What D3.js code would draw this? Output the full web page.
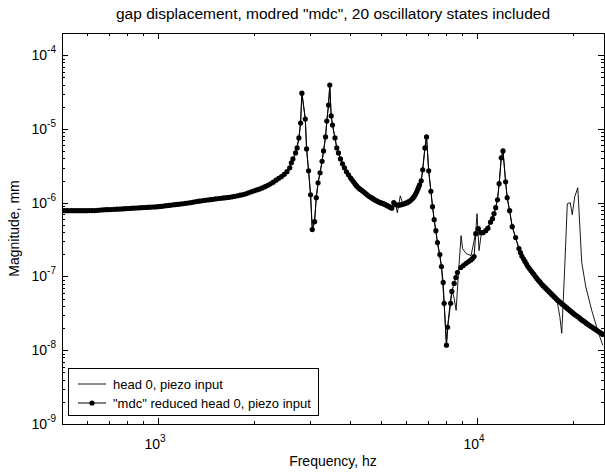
<!DOCTYPE html>
<html><head><meta charset="utf-8">
<script src="https://cdn.jsdelivr.net/npm/d3@7"></script>
<style>
body{margin:0;background:#fff}
text{font-family:"Liberation Sans",Arial,sans-serif;fill:#000}
</style>
</head><body>
<svg id="c" width="605" height="473"></svg>
<script>
// ---- data: [frequency Hz, magnitude mm] ----
const mdcSeries = [
 [500,0.780e-6],[510,0.780e-6],[520,0.780e-6],[531,0.780e-6],[541,0.780e-6],[552,0.780e-6],[563,0.780e-6],[574,0.780e-6],
 [586,0.781e-6],[598,0.781e-6],[610,0.782e-6],[622,0.782e-6],[634,0.783e-6],[647,0.789e-6],[660,0.797e-6],[673,0.802e-6],
 [687,0.804e-6],[700,0.807e-6],[714,0.809e-6],[729,0.814e-6],[743,0.817e-6],[758,0.819e-6],[773,0.824e-6],[789,0.830e-6],
 [805,0.835e-6],[821,0.840e-6],[837,0.843e-6],[854,0.848e-6],[871,0.853e-6],[888,0.856e-6],[906,0.861e-6],[924,0.864e-6],
 [943,0.869e-6],[961,0.875e-6],[981,0.877e-6],[1000,0.883e-6],[1020,0.891e-6],[1041,0.900e-6],[1061,0.911e-6],[1083,0.919e-6],
 [1104,0.931e-6],[1126,0.940e-6],[1149,0.948e-6],[1172,0.960e-6],[1195,0.969e-6],[1219,0.981e-6],[1243,0.991e-6],[1268,1.006e-6],
 [1294,1.022e-6],[1319,1.035e-6],[1346,1.051e-6],[1373,1.064e-6],[1400,1.077e-6],[1428,1.088e-6],[1457,1.101e-6],[1486,1.111e-6],
 [1516,1.126e-6],[1546,1.140e-6],[1577,1.150e-6],[1608,1.161e-6],[1641,1.176e-6],[1673,1.183e-6],[1707,1.201e-6],[1741,1.220e-6],
 [1776,1.243e-6],[1811,1.267e-6],[1848,1.291e-6],[1885,1.323e-6],[1922,1.365e-6],[1961,1.408e-6],[2000,1.448e-6],[2040,1.489e-6],
 [2081,1.531e-6],[2122,1.585e-6],[2165,1.651e-6],[2208,1.724e-6],[2252,1.806e-6],[2297,1.898e-6],[2343,2.020e-6],[2390,2.144e-6],
 [2438,2.26e-6],[2487,2.427e-6],[2536,2.640e-6],[2587,2.972e-6],
 [2618,3.47e-6],[2647,3.93e-6],[2699,4.74e-6],[2729,5.54e-6],[2764,7.55e-6],[2798,12.05e-6],[2825,30.6e-6],[2895,13.6e-6],
 [2922,5.37e-6],[2964,2.71e-6],[3007,1.283e-6],[3044,0.432e-6],[3095,0.554e-6],[3133,1.169e-6],[3174,1.864e-6],[3220,2.544e-6],
 [3267,3.64e-6],[3302,5.04e-6],[3350,7.79e-6],[3381,12.8e-6],[3423,21.1e-6],[3454,39.3e-6],[3489,15.0e-6],[3522,11.3e-6],
 [3587,7.55e-6],[3633,5.54e-6],[3678,4.74e-6],[3732,3.93e-6],[3786,3.37e-6],[3841,2.97e-6],[3897,2.62e-6],[3954,2.39e-6],
 [4011,2.18e-6],[4054,2.046e-6],[4099,1.92e-6],[4142,1.806e-6],[4188,1.70e-6],[4233,1.620e-6],[4279,1.55e-6],[4325,1.498e-6],
 [4372,1.45e-6],[4419,1.395e-6],[4467,1.34e-6],[4516,1.291e-6],[4564,1.24e-6],[4614,1.205e-6],[4664,1.17e-6],[4714,1.133e-6],
 [4765,1.10e-6],[4818,1.071e-6],[4870,1.05e-6],[4923,1.022e-6],[4976,1.00e-6],[5030,0.985e-6],[5084,0.97e-6],[5139,0.948e-6],
 [5195,0.925e-6],[5251,0.905e-6],[5309,0.883e-6],[5355,0.861e-6],[5404,0.843e-6],[5483,1.00e-6],[5563,0.94e-6],[5662,0.925e-6],
 [5724,0.931e-6],[5786,0.94e-6],[5850,0.954e-6],[5914,0.969e-6],[5978,0.985e-6],[6043,1.00e-6],[6108,1.032e-6],[6174,1.064e-6],
 [6242,1.115e-6],[6310,1.17e-6],[6369,1.243e-6],[6423,1.32e-6],[6470,1.408e-6],[6517,1.52e-6],[6560,1.630e-6],[6603,1.75e-6],
 [6683,1.98e-6],[6755,2.79e-6],[6864,5.54e-6],[6944,7.79e-6],[7054,2.71e-6],[7167,1.43e-6],[7250,0.883e-6],[7338,0.589e-6],
 [7428,0.418e-6],[7514,0.288e-6],[7645,0.198e-6],[7734,0.1365e-6],[7831,0.083e-6],[7887,0.0432e-6],[8018,0.0117e-6],[8087,0.0205e-6],
 [8265,0.0432e-6],[8336,0.0627e-6],[8476,0.0804e-6],[8579,0.0969e-6],[8678,0.1133e-6],[8892,0.1324e-6],[9055,0.141e-6],[9219,0.150e-6],
 [9386,0.158e-6],[9557,0.167e-6],[9674,0.175e-6],[9786,0.186e-6],[9906,0.381e-6],[10094,0.445e-6],[10270,0.393e-6],[10440,0.393e-6],
 [10650,0.418e-6],[10820,0.452e-6],[11020,0.545e-6],[11180,0.607e-6],[11300,0.710e-6],[11440,0.856e-6],[11590,1.098e-6],[11730,1.81e-6],
 [11910,4.06e-6],[12060,5.04e-6],[12290,1.92e-6],[12430,1.17e-6],[12650,0.780e-6],[12890,0.474e-6],[13210,0.337e-6],[13530,0.239e-6],
 [13677,0.211e-6],[13820,0.189e-6],[13976,0.1734e-6],[14130,0.160e-6],[14282,0.1471e-6],[14430,0.1365e-6],[14593,0.1282e-6],[14750,0.1205e-6],
 [14910,0.1132e-6],[15070,0.1065e-6],[15236,0.100e-6],[15400,0.094e-6],[15568,0.0888e-6],[15740,0.0843e-6],[15909,0.0796e-6],[16080,0.0756e-6],
 [16254,0.0721e-6],[16430,0.0689e-6],[16609,0.0657e-6],[16790,0.0627e-6],[16972,0.0598e-6],[17150,0.0571e-6],[17343,0.0545e-6],[17530,0.052e-6],
 [17718,0.0497e-6],[17910,0.0474e-6],[18106,0.0455e-6],[18300,0.044e-6],[18502,0.0421e-6],[18700,0.0406e-6],[18906,0.0390e-6],[19110,0.0375e-6],
 [19316,0.0360e-6],[19530,0.0347e-6],[19738,0.0333e-6],[19950,0.0321e-6],[20170,0.0308e-6],[20390,0.0297e-6],[20611,0.0288e-6],[20830,0.0279e-6],
 [21056,0.0268e-6],[21290,0.0258e-6],[21516,0.0250e-6],[21750,0.0243e-6],[21986,0.0233e-6],[22230,0.0225e-6],[22467,0.0218e-6],[22710,0.0211e-6],
 [22954,0.0205e-6],[23210,0.0198e-6],[23456,0.0192e-6],[23710,0.0186e-6],[23969,0.0181e-6],[24230,0.0175e-6],[24494,0.0170e-6],[24770,0.0164e-6]
];

const headSeries = [
 [500,0.780e-6],[659,0.804e-6],[1000,0.883e-6],[1353,1.064e-6],[1804,1.26e-6],[2083,1.546e-6],[2304,1.923e-6],[2475,2.39e-6],
 [2585,2.97e-6],[2647,3.93e-6],[2700,4.74e-6],[2764,7.55e-6],[2798,12.05e-6],[2825,30.6e-6],[2895,13.6e-6],[2922,5.37e-6],
 [2964,2.71e-6],[3007,1.283e-6],[3044,0.432e-6],[3095,0.554e-6],[3133,1.169e-6],[3174,1.864e-6],[3220,2.544e-6],[3267,3.64e-6],
 [3302,5.04e-6],[3350,7.79e-6],[3381,12.8e-6],[3423,21.1e-6],[3454,39.3e-6],[3489,15.0e-6],[3522,11.3e-6],[3587,7.55e-6],
 [3633,5.54e-6],[3732,3.93e-6],[3841,2.97e-6],[4011,2.18e-6],[4279,1.55e-6],[4564,1.24e-6],[4870,1.05e-6],[5195,0.925e-6],
 [5404,0.856e-6],[5464,0.94e-6],[5543,1.0e-6],[5625,0.73e-6],[5745,1.24e-6],[5850,0.969e-6],[6043,1.0e-6],[6310,1.17e-6],
 [6517,1.52e-6],[6683,1.98e-6],[6755,2.79e-6],[6864,5.54e-6],[6944,7.79e-6],[7054,2.71e-6],[7167,1.43e-6],[7338,0.589e-6],
 [7514,0.288e-6],[7734,0.1365e-6],[7887,0.0432e-6],[8018,0.0117e-6],[8087,0.0205e-6],[8175,0.0326e-6],[8265,0.0504e-6],[8354,0.0647e-6],
 [8476,0.0504e-6],[8598,0.0347e-6],[8754,0.1205e-6],[8913,0.358e-6],[9010,0.239e-6],[9237,0.2045e-6],[9578,0.192e-6],[9892,0.381e-6],
 [10000,0.710e-6],[10145,0.2245e-6],[10292,0.358e-6],[10650,0.418e-6],[11020,0.545e-6],[11300,0.710e-6],[11590,1.098e-6],[11730,1.81e-6],
 [11910,4.06e-6],[12060,5.04e-6],[12290,1.92e-6],[12430,1.17e-6],[12650,0.780e-6],[12890,0.474e-6],[13530,0.239e-6],[14750,0.1205e-6],
 [16080,0.0756e-6],[17150,0.0571e-6],[17530,0.052e-6],[17850,0.0445e-6],[18170,0.0288e-6],[18430,0.0170e-6],[18840,0.141e-6],[19180,0.969e-6],
 [19600,1.0e-6],[19880,0.688e-6],[20240,1.205e-6],[20690,1.595e-6],[21290,0.1546e-6],[21910,0.0733e-6],[22880,0.0347e-6],[23880,0.0186e-6],
 [24770,0.0117e-6]
];

const xMajorTicks = [1000, 10000];
const xTickExp = ["3", "4"];
const yMajorTicks = [1e-9, 1e-8, 1e-7, 1e-6, 1e-5, 1e-4];
const yTickExp = ["-9", "-8", "-7", "-6", "-5", "-4"];
const titleText = 'gap displacement, modred "mdc", 20 oscillatory states included';
const xLabel = "Frequency, hz";
const yLabel = "Magnitude, mm";
const legendLabels = ["head 0, piezo input", '"mdc" reduced head 0, piezo input'];

// ---- drawing ----
const svg = d3.select("#c");
const L = 62, R = 604, T = 33, B = 424;
const x = d3.scaleLog().domain([500, 25000]).range([L, R]);
const y = d3.scaleLog().domain([1e-9, 2e-4]).range([B, T]);

const isMajor = v => Math.abs(Math.log10(v) - Math.round(Math.log10(v))) < 1e-9;
const xMinor = x.ticks().filter(v => !isMajor(v) && v > 500 && v < 25000);
const yMinor = y.ticks().filter(v => !isMajor(v) && v < 2e-4);

function axis(gen, tx, ty, vals, size) {
  svg.append("g").attr("transform", `translate(${tx},${ty})`)
    .call(gen.tickValues(vals).tickSize(size).tickFormat(""))
    .call(g => g.select(".domain").remove())
    .call(g => g.selectAll("line").attr("stroke", "#000").attr("shape-rendering", "crispEdges"));
}
axis(d3.axisBottom(x), 0, B, xMajorTicks, -6);
axis(d3.axisBottom(x), 0, B, xMinor, -3);
axis(d3.axisTop(x), 0, T, xMajorTicks, -6);
axis(d3.axisTop(x), 0, T, xMinor, -3);
axis(d3.axisLeft(y), L, 0, yMajorTicks, -6);
axis(d3.axisLeft(y), L, 0, yMinor, -3);
axis(d3.axisRight(y), R, 0, yMajorTicks, -6);
axis(d3.axisRight(y), R, 0, yMinor, -3);

svg.append("rect").attr("x", L + 0.5).attr("y", T + 0.5).attr("width", R - L).attr("height", B - T)
  .attr("fill", "none").attr("stroke", "#000").attr("stroke-width", 1).attr("shape-rendering", "crispEdges");

// tick labels
xMajorTicks.forEach((v, i) => {
  const t = svg.append("text").attr("x", x(v) - 3).attr("y", 449).attr("text-anchor", "middle").attr("font-size", 14);
  t.append("tspan").text("10");
  t.append("tspan").attr("dy", -7).attr("font-size", 10).text(xTickExp[i]);
});
yMajorTicks.forEach((v, i) => {
  const t = svg.append("text").attr("x", 56).attr("y", y(v) + 5).attr("text-anchor", "end").attr("font-size", 14);
  t.append("tspan").text("10");
  t.append("tspan").attr("dy", -7).attr("font-size", 10).text(yTickExp[i]);
});

svg.append("text").attr("x", (L + R) / 2).attr("y", 19).attr("text-anchor", "middle").attr("font-size", 15.5).text(titleText);
svg.append("text").attr("x", (L + R) / 2).attr("y", 466).attr("text-anchor", "middle").attr("font-size", 14).text(xLabel);
svg.append("text").attr("transform", `translate(19,${(T + B) / 2}) rotate(-90)`).attr("text-anchor", "middle").attr("font-size", 14).text(yLabel);

// clip
svg.append("clipPath").attr("id", "clip").append("rect").attr("x", L).attr("y", T).attr("width", R - L + 1).attr("height", B - T + 1);

const line = d3.line().x(d => x(d[0])).y(d => y(d[1]));
const plot = svg.append("g").attr("clip-path", "url(#clip)");
plot.append("path").datum(headSeries).attr("d", line).attr("fill", "none").attr("stroke", "#000").attr("stroke-width", 0.9);
plot.append("path").datum(mdcSeries).attr("d", line).attr("fill", "none").attr("stroke", "#000").attr("stroke-width", 1);
plot.selectAll("circle").data(mdcSeries).join("circle")
  .attr("cx", d => x(d[0])).attr("cy", d => y(d[1])).attr("r", 2.6).attr("fill", "#000");

// legend
const lg = svg.append("g");
lg.append("rect").attr("x", 68.5).attr("y", 368.5).attr("width", 250).attr("height", 47)
  .attr("fill", "#fff").attr("stroke", "#000").attr("shape-rendering", "crispEdges");
lg.append("line").attr("x1", 78).attr("x2", 106).attr("y1", 384).attr("y2", 384).attr("stroke", "#000").attr("stroke-width", 0.9);
lg.append("text").attr("x", 113).attr("y", 389).attr("font-size", 13).text(legendLabels[0]);
lg.append("line").attr("x1", 78).attr("x2", 106).attr("y1", 403).attr("y2", 403).attr("stroke", "#000").attr("stroke-width", 1);
lg.append("circle").attr("cx", 92).attr("cy", 403).attr("r", 2.6).attr("fill", "#000");
lg.append("text").attr("x", 113).attr("y", 408).attr("font-size", 13).text(legendLabels[1]);
</script>
</body></html>
